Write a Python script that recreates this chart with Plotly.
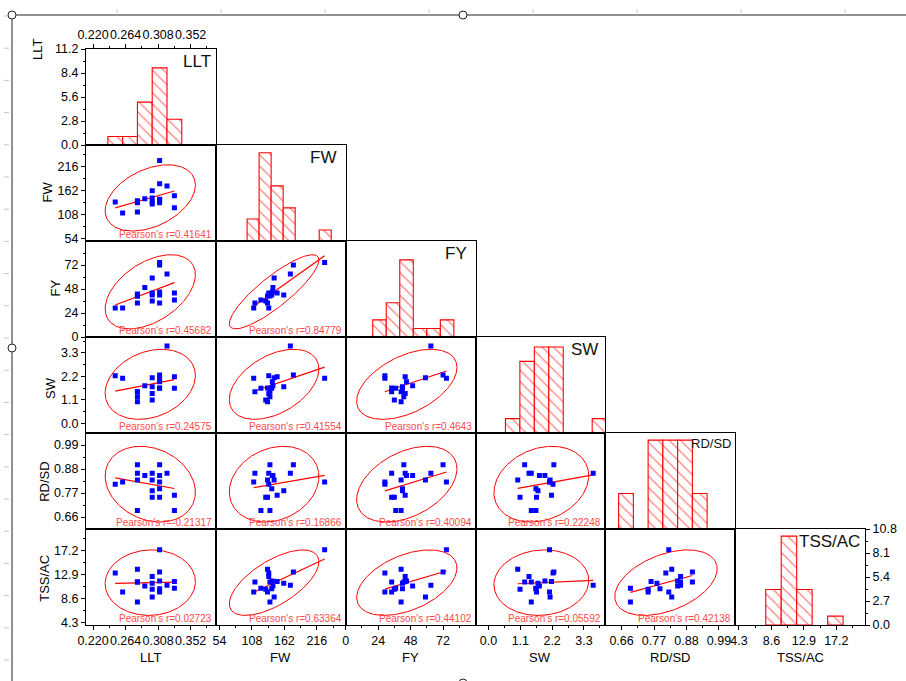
import numpy as np
import plotly.graph_objects as go

# ---------------- data (19 observations) ----------------
NAMES = ["LLT", "FW", "FY", "SW", "RD/SD", "TSS/AC"]
LLT = [0.25, 0.26, 0.28, 0.28, 0.28, 0.28, 0.29, 0.30, 0.30, 0.30, 0.30,
       0.31, 0.31, 0.31, 0.31, 0.31, 0.32, 0.33, 0.33]
FW = [136, 111, 138, 113, 134, 138, 143, 136, 145, 161, 131,
      177, 142, 229, 141, 134, 172, 150, 123]
FY = [29, 29, 43, 34, 41, 41, 49.5, 44, 59, 42, 36,
      72, 45, 74.5, 42, 34, 63, 44, 37]
SW = [2.23, 2.11, 1.25, 1.48, 1.01, 1.48, 1.76, 1.40, 2.13, 1.71, 1.09,
      2.26, 1.95, 2.11, 1.64, 1.66, 3.62, 2.18, 1.64]
RD = [0.81, 0.82, 0.90, 0.86, 0.83, 0.69, 0.85, 0.86, 0.83, 0.78, 0.75,
      0.90, 0.85, 0.82, 0.79, 0.75, 0.86, 0.76, 0.69]
TSS = [13.1, 9.7, 11.5, 11.5, 13.8, 7.9, 10.8, 12.5, 8.8, 11.3, 10.2,
       13.3, 11.7, 17.3, 10.3, 9.7, 10.9, 11.6, 10.4]
VARS = [LLT, FW, FY, SW, RD, TSS]

AXIS_RANGE = [[0.2105, 0.386], [48, 264], [0, 96], [-0.45, 4.04],
              [0.605, 1.045], [3.8, 21.0]]
AXIS_TICKS = [[0.220, 0.264, 0.308, 0.352], [54, 108, 162, 216],
              [0, 24, 48, 72], [0.0, 1.1, 2.2, 3.3],
              [0.66, 0.77, 0.88, 0.99], [4.3, 8.6, 12.9, 17.2]]
TICK_FMT = ["{:.3f}", "{:.0f}", "{:.0f}", "{:.1f}", "{:.2f}", "{:.1f}"]

HIST_EDGES = [
    [0.24, 0.26, 0.28, 0.30, 0.32, 0.34],
    [100, 120, 140, 160, 180, 200, 220, 240],
    [20, 30, 40, 50, 60, 70, 80],
    [0.585, 1.085, 1.585, 2.085, 2.585, 3.085, 3.585, 4.085],
    [0.65, 0.70, 0.75, 0.80, 0.85, 0.90, 0.95],
    [7.85, 9.9, 11.95, 14.0, 16.05, 18.1],
]
COUNT_MAX = [11.2, 8.7, 11.2, 6.7, 5.4, 10.8]
LLT_COUNT_TICKS = [0.0, 2.8, 5.6, 8.4, 11.2]
TSS_COUNT_TICKS = [0.0, 2.7, 5.4, 8.1, 10.8]

# Pearson's r, lower triangle order (row by row)
PEARSON_R = [0.41641,
             0.45682, 0.84779,
             0.24575, 0.41554, 0.4643,
             -0.21317, 0.16866, 0.40094, 0.22248,
             0.02723, 0.63364, 0.44102, 0.05592, 0.42138]

# ---------------- geometry / style ----------------
W, H = 906, 681
ML, MR, MT, MB = 86, 41, 49, 56
PW = (W - ML - MR) / 6.0
PH = (H - MT - MB) / 6.0
FONT = "Arial, Liberation Sans, sans-serif"
TICKFONT = dict(family=FONT, size=12.5, color="#000000")
RED = "#FF0000"
BLUE = "#0000FF"


def PX(px):
    return (px - ML) / (W - ML - MR)


def PY(py):
    return (H - MB - py) / (H - MT - MB)


def minor_vals(ticks, rng):
    step = ticks[1] - ticks[0]
    vals = [ticks[0] - step / 2] + [t + step / 2 for t in ticks]
    return [v for v in vals if rng[0] < v < rng[1]]


def tick_style(vals, fmt, rng):
    return dict(
        ticks="outside", ticklen=4, tickwidth=1, tickcolor="black",
        tickmode="array", tickvals=vals, ticktext=[fmt.format(v) for v in vals],
        showticklabels=True, tickfont=TICKFONT, tickangle=0,
        minor=dict(tickmode="array", tickvals=minor_vals(vals, rng),
                   ticks="outside", ticklen=2, tickwidth=1,
                   tickcolor="black", showgrid=False),
    )


n = len(LLT)
d = n - 2
F95 = d / 2.0 * (0.05 ** (-2.0 / d) - 1.0)
K_ELL = np.sqrt(2.0 * (n - 1) * (n + 1) / (n * (n - 2)) * F95)

fig = go.Figure()
layout = {}
annotations = []
k = 0
r_idx = 0
for i in range(6):
    for j in range(i + 1):
        k += 1
        xa = "x" if k == 1 else f"x{k}"
        ya = "y" if k == 1 else f"y{k}"
        base = dict(showline=True, linecolor="black", linewidth=1.1, mirror=True,
                    showgrid=False, zeroline=False, ticks="",
                    showticklabels=False, automargin=False, fixedrange=True)
        xd = [j / 6.0, (j + 1) / 6.0]
        yd = [1 - (i + 1) / 6.0, 1 - i / 6.0]
        xrng = AXIS_RANGE[j]
        xaxis = dict(base, domain=xd, anchor=ya, range=xrng)
        if i == 5:
            xaxis.update(tick_style(AXIS_TICKS[j], TICK_FMT[j], xrng))
        if i == 0 and j == 0:
            xaxis.update(tick_style(AXIS_TICKS[0], TICK_FMT[0], xrng))
            xaxis["side"] = "top"

        if i == j:
            yrng = [0, COUNT_MAX[i]]
            yaxis = dict(base, domain=yd, anchor=xa, range=yrng)
            if i == 0:
                yaxis.update(tick_style(LLT_COUNT_TICKS, "{:.1f}", yrng))
            if i == 5:
                yaxis.update(tick_style(TSS_COUNT_TICKS, "{:.1f}", yrng))
                yaxis["side"] = "right"
            # histogram from data
            edges = np.array(HIST_EDGES[i], dtype=float)
            counts, _ = np.histogram(np.array(VARS[i], dtype=float), bins=edges - 1e-9)
            centers = (edges[:-1] + edges[1:]) / 2
            widths = edges[1:] - edges[:-1]
            m = counts > 0
            fig.add_trace(go.Bar(
                x=centers[m], y=counts[m], width=widths[m], xaxis=xa, yaxis=ya,
                marker=dict(color="white", line=dict(color=RED, width=1.1),
                            pattern=dict(shape="\\", fgcolor=RED, bgcolor="white",
                                         size=8, solidity=0.16)),
                hoverinfo="skip"))
            # variable name in top right corner
            gaps = [3, 8, 7, 5, 2, 3]
            annotations.append(dict(
                xref="paper", yref="paper",
                x=PX(ML + (j + 1) * PW - gaps[i]), y=PY(MT + i * PH + 1),
                xanchor="right", yanchor="top", showarrow=False,
                text=NAMES[i],
                font=dict(family=FONT, size=13 if NAMES[i] == "RD/SD" else 17,
                          color="#111111")))
        else:
            yrng = AXIS_RANGE[i]
            yaxis = dict(base, domain=yd, anchor=xa, range=yrng)
            if j == 0:
                yaxis.update(tick_style(AXIS_TICKS[i], TICK_FMT[i], yrng))
            x = np.array(VARS[j], dtype=float)
            y = np.array(VARS[i], dtype=float)
            # prediction ellipse (95%)
            mu = np.array([x.mean(), y.mean()])
            cov = np.cov(x, y)
            vals, vecs = np.linalg.eigh(cov)
            t = np.linspace(0, 2 * np.pi, 241)
            circ = np.vstack([np.cos(t), np.sin(t)])
            pts = vecs @ (np.sqrt(vals)[:, None] * circ) * K_ELL + mu[:, None]
            fig.add_trace(go.Scatter(x=pts[0], y=pts[1], mode="lines",
                                     line=dict(color=RED, width=1),
                                     xaxis=xa, yaxis=ya, hoverinfo="skip"))
            # linear fit
            b1, b0 = np.polyfit(x, y, 1)
            xs = np.array([x.min(), x.max()])
            fig.add_trace(go.Scatter(x=xs, y=b0 + b1 * xs, mode="lines",
                                     line=dict(color=RED, width=1.2),
                                     xaxis=xa, yaxis=ya, hoverinfo="skip"))
            # points
            fig.add_trace(go.Scatter(x=x, y=y, mode="markers",
                                     marker=dict(symbol="square", size=5, color=BLUE,
                                                 line=dict(width=0)),
                                     xaxis=xa, yaxis=ya))
            annotations.append(dict(
                xref="paper", yref="paper",
                x=PX(ML + (j + 1) * PW - 2), y=PY(MT + (i + 1) * PH - 6.5),
                xanchor="right", yanchor="middle", showarrow=False,
                text=f"Pearson's r={PEARSON_R[r_idx]}",
                font=dict(family=FONT, size=10, color="#FF4A4A")))
            r_idx += 1
        layout["xaxis" if k == 1 else f"xaxis{k}"] = xaxis
        layout["yaxis" if k == 1 else f"yaxis{k}"] = yaxis

# axis titles
for j in range(6):
    annotations.append(dict(xref="paper", yref="paper",
                            x=PX(ML + (j + 0.5) * PW), y=PY(657),
                            xanchor="center", yanchor="middle", showarrow=False,
                            text=NAMES[j], font=dict(family=FONT, size=13, color="#000")))
YT_X = [37, 47.5, 54.5, 50, 43.8, 43.8]
YT_Y = [50, 192, 288, 388, 482, 578]
for i in range(6):
    annotations.append(dict(xref="paper", yref="paper",
                            x=PX(YT_X[i]), y=PY(YT_Y[i]), textangle=-90,
                            xanchor="center", yanchor="middle", showarrow=False,
                            text=NAMES[i], font=dict(family=FONT, size=13, color="#000")))

# page decoration (graph-page frame, handles and ruler marks)
shapes = []
shapes.append(dict(type="line", xref="paper", yref="paper", x0=PX(12), x1=PX(906),
                   y0=PY(15), y1=PY(15), line=dict(color="#222", width=1)))
shapes.append(dict(type="line", xref="paper", yref="paper", x0=PX(12), x1=PX(12),
                   y0=PY(15), y1=PY(681), line=dict(color="#222", width=1)))
for px in [117 + 104 * q for q in range(8)]:
    shapes.append(dict(type="line", xref="paper", yref="paper", x0=PX(px), x1=PX(px),
                       y0=PY(9), y1=PY(13), line=dict(color="#C4CCDC", width=1)))
for q in range(21):
    py = 16 + 32.2 * q
    if py > 675:
        break
    shapes.append(dict(type="line", xref="paper", yref="paper", x0=PX(4), x1=PX(9),
                       y0=PY(py), y1=PY(py), line=dict(color="#BCC6DA", width=1)))
for cx, cy in [(12, 15), (463, 15), (12, 348), (463, 683)]:
    shapes.append(dict(type="circle", xref="paper", yref="paper",
                       x0=PX(cx - 4), x1=PX(cx + 4), y0=PY(cy + 4), y1=PY(cy - 4),
                       fillcolor="white", line=dict(color="#222", width=1)))

fig.update_layout(
    width=W, height=H,
    margin=dict(l=ML, r=MR, t=MT, b=MB, pad=0),
    paper_bgcolor="white", plot_bgcolor="white",
    showlegend=False, barmode="overlay",
    annotations=annotations, shapes=shapes,
    **layout,
)
fig.write_html("out.html",
               config={"displayModeBar": False},
               post_script="document.body.style.margin='0';"
                           "document.body.style.overflow='hidden';")
